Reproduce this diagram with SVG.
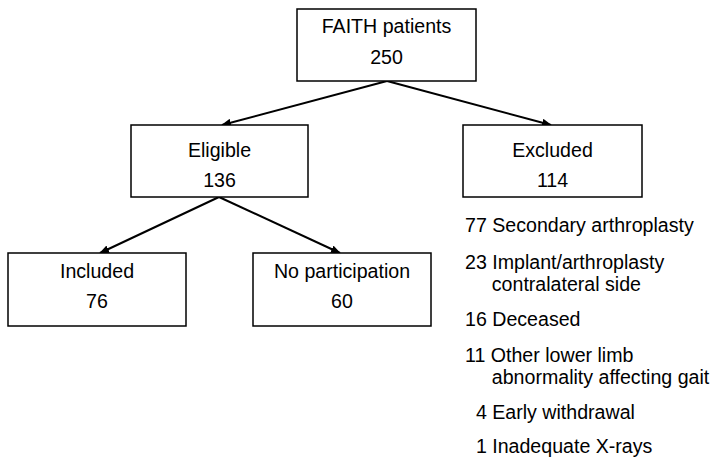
<svg xmlns="http://www.w3.org/2000/svg" width="710" height="459" viewBox="0 0 710 459">
<style>
.box{fill:#fff;stroke:#000;stroke-width:1.5}
.t{font-family:"Liberation Sans",Arial,sans-serif;font-size:19.6px;fill:#000}
.c{text-anchor:middle}
.ln{stroke:#000;stroke-width:2;fill:none;marker-end:url(#ah)}
</style>
<defs>
<marker id="ah" markerUnits="userSpaceOnUse" markerWidth="10" markerHeight="8" refX="9" refY="4" orient="auto">
<path d="M0,0 L10,4 L0,8 Z" fill="#000"/>
</marker>
</defs>
<rect width="710" height="459" fill="#fff"/>
<g id="connectors">
<line class="ln" x1="387" y1="81" x2="222" y2="125"/>
<line class="ln" x1="387" y1="81" x2="551" y2="125"/>
<line class="ln" x1="219" y1="197" x2="100" y2="253"/>
<line class="ln" x1="219" y1="197" x2="340" y2="253"/>
</g>
<g id="faith">
<rect class="box" x="297" y="9" width="179" height="72"/>
<text class="t c" x="386.5" y="33">FAITH patients</text>
<text class="t c" x="386.5" y="64">250</text>
</g>
<g id="eligible">
<rect class="box" x="131" y="125" width="177" height="72"/>
<text class="t c" x="219.5" y="157">Eligible</text>
<text class="t c" x="219.5" y="187">136</text>
</g>
<g id="excluded">
<rect class="box" x="463" y="125" width="179" height="72"/>
<text class="t c" x="552.5" y="157">Excluded</text>
<text class="t c" x="552.5" y="187">114</text>
</g>
<g id="included">
<rect class="box" x="8" y="253" width="178" height="73"/>
<text class="t c" x="97" y="278">Included</text>
<text class="t c" x="97" y="308">76</text>
</g>
<g id="noparticipation">
<rect class="box" x="253" y="253" width="178" height="73"/>
<text class="t c" x="342" y="278">No participation</text>
<text class="t c" x="342" y="308">60</text>
</g>
<g id="exclusion-reasons">
<text class="t" x="465" y="232">77 Secondary arthroplasty</text>
<text class="t" x="465" y="269">23 Implant/arthroplasty</text>
<text class="t" x="491.8" y="291">contralateral side</text>
<text class="t" x="465" y="326">16 Deceased</text>
<text class="t" x="465" y="362">11 Other lower limb</text>
<text class="t" x="491.8" y="384">abnormality affecting gait</text>
<text class="t" x="475.9" y="419">4 Early withdrawal</text>
<text class="t" x="475.9" y="453">1 Inadequate X-rays</text>
</g>
</svg>
